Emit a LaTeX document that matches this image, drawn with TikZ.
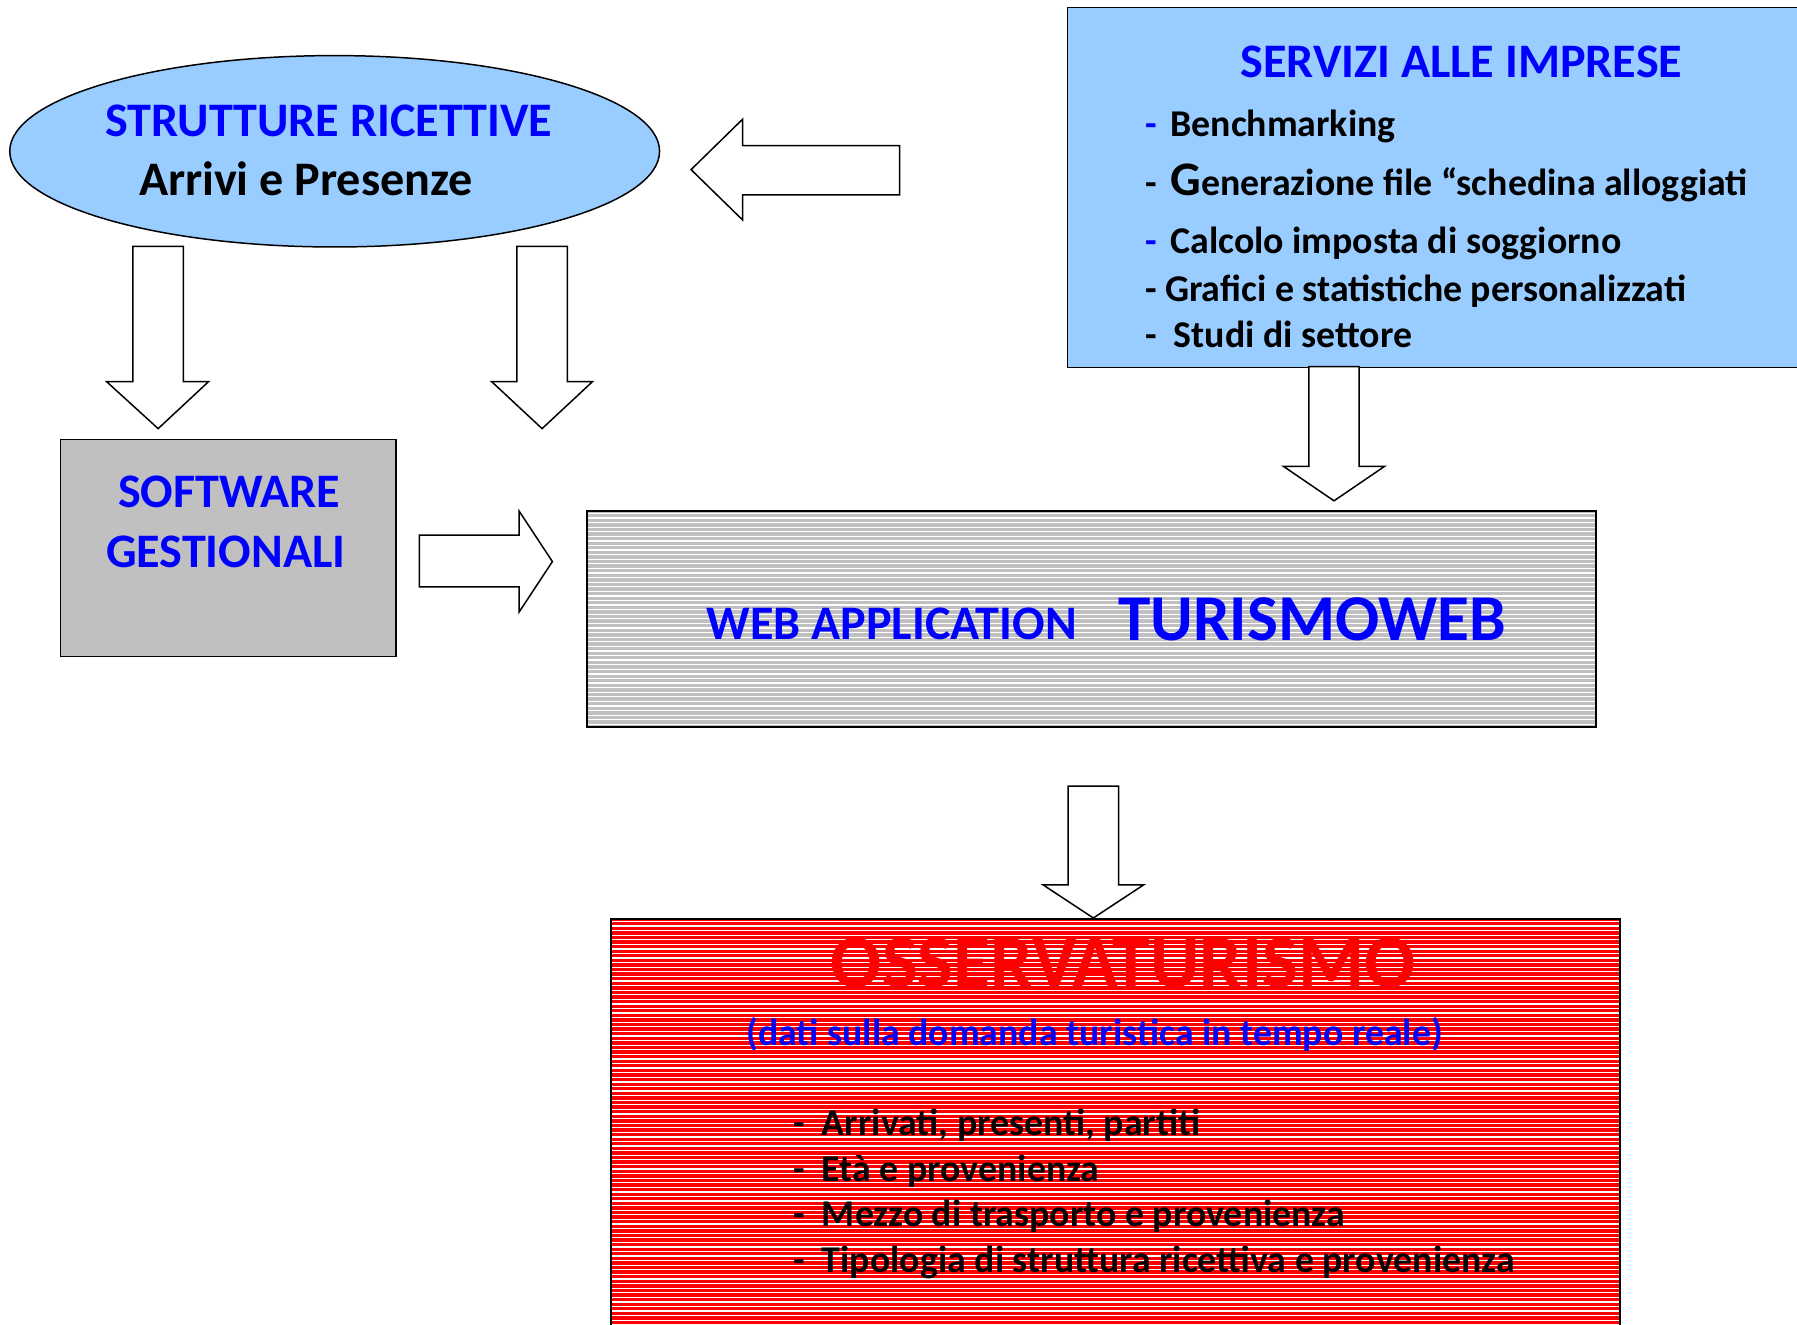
\documentclass[tikz,border=0pt]{standalone}
\usepackage{fontspec}
\setmainfont{Carlito}
\usetikzlibrary{shapes.geometric}
\definecolor{lblue}{HTML}{99CCFF}
\definecolor{tblue}{HTML}{0000FF}
\definecolor{lgray}{HTML}{C0C0C0}
\definecolor{tred}{HTML}{FF0000}
\begin{document}
\begin{tikzpicture}[x=1pt,y=-1pt,
  blockarrow/.style={draw=black,fill=white,line width=1.3pt,line join=miter},
  boxline/.style={draw=black,line width=1.3pt},
  txt/.style={inner sep=0pt,font=\bfseries},
  big/.style={font=\fontsize{42}{46}\selectfont\bfseries},
  item/.style={txt,anchor=base west,font=\fontsize{33}{37}\selectfont\bfseries},
  stripe/.style={white,line width=1.1pt}]
\clip (0,0) rectangle (1568,1155.3);
\fill[white] (0,0) rectangle (1568,1155.3);

% ellipse
\node[boxline,fill=lblue,ellipse,minimum width=567pt,minimum height=167pt,inner sep=0pt] (sr) at (292,132) {};
\node[txt,big,anchor=base,text=tblue] (srt) at (287,119) {STRUTTURE RICETTIVE};
\node[txt,big,anchor=base] (srs) at (267,171) {Arrivi e Presenze};

% services box
\node[boxline,fill=lblue,rectangle,anchor=north west,minimum width=650pt,minimum height=314pt,inner sep=0pt] (si) at (931,6) {};
\node[txt,big,anchor=base,text=tblue] (sit) at (1275,68) {SERVIZI ALLE IMPRESE};
\node[item] (s1) at (999,119) {{\color{tblue}-}\kern12pt Benchmarking};
\node[item] (s2) at (999,171) {-\kern12pt{\fontsize{42}{46}\selectfont G}enerazione file “schedina alloggiati};
\node[item] (s3) at (999,221) {{\color{tblue}-}\kern12pt Calcolo imposta di soggiorno};
\node[item] (s4) at (999,263) {- Grafici e statistiche personalizzati};
\node[item] (s5) at (999,303) {-\ \ Studi di settore};

% software box
\node[boxline,fill=lgray,rectangle,anchor=north west,minimum width=293pt,minimum height=189pt,inner sep=0pt] (sg) at (52,383) {};
\node[txt,big,anchor=base,text=tblue] (sg1) at (200,443) {SOFTWARE};
\node[txt,big,anchor=base,text=tblue] (sg2) at (197,495) {GESTIONALI};

% web application box
\node[rectangle,fill=lgray,anchor=north west,minimum width=880pt,minimum height=188pt,inner sep=0pt] (wa) at (512,446) {};
\begin{scope}
\clip (512,446) rectangle (1392,634);
\foreach \yy in {448,452,...,632} \draw[stripe] (512,\yy) -- (1392,\yy);
\end{scope}
\draw[boxline] (wa.north west) rectangle (wa.south east);
\node[txt,anchor=base,text=tblue,font=\fontsize{42}{46}\selectfont\bfseries] (wa1) at (778,558) {WEB APPLICATION};
\node[txt,anchor=base,text=tblue,font=\fontsize{57}{60}\selectfont\bfseries] (wa2) at (1145,559) {TURISMOWEB};

% osservaturismo box
\node[rectangle,fill=tred,anchor=north west,minimum width=880pt,minimum height=360pt,inner sep=0pt] (os) at (533,802) {};
\begin{scope}
\clip (533,802) rectangle (1413,1162);
\foreach \yy in {804,808,...,1160} \draw[stripe] (533,\yy) -- (1413,\yy);
\end{scope}
\draw[boxline] (os.north west) rectangle (os.south east);
\node[txt,anchor=base,text=tred,font=\fontsize{66}{70}\selectfont\bfseries] (os1) at (980,862) {OSSERVATURISMO};
\node[txt,anchor=base,text=tblue,font=\fontsize{33}{37}\selectfont\bfseries] (os2) at (955,912) {(dati sulla domanda turistica in tempo reale)};
\node[item] (o1) at (692,991) {-\ \ Arrivati, presenti, partiti};
\node[item] (o2) at (692,1031) {-\ \ Età e provenienza};
\node[item] (o3) at (692,1070) {-\ \ Mezzo di trasporto e provenienza};
\node[item] (o4) at (692,1110) {-\ \ Tipologia di struttura ricettiva e provenienza};

% block arrows
\draw[blockarrow] (116,215)--(116,333)--(93,333)--(138,374)--(182,333)--(160,333)--(160,215)--cycle;
\draw[blockarrow] (451,215)--(451,333)--(429,333)--(473,374)--(517,333)--(495,333)--(495,215)--cycle;
\draw[blockarrow] (785,127)--(648,127)--(648,104)--(603,148)--(648,192)--(648,170)--(785,170)--cycle;
\draw[blockarrow] (366,467)--(453,467)--(453,446)--(482,490)--(453,534)--(453,512)--(366,512)--cycle;
\draw[blockarrow] (1142,320)--(1142,407)--(1120,407)--(1164,437)--(1208,407)--(1186,407)--(1186,320)--cycle;
\draw[blockarrow] (932,686)--(932,772)--(910,772)--(954,801)--(998,772)--(976,772)--(976,686)--cycle;
\end{tikzpicture}
\end{document}
